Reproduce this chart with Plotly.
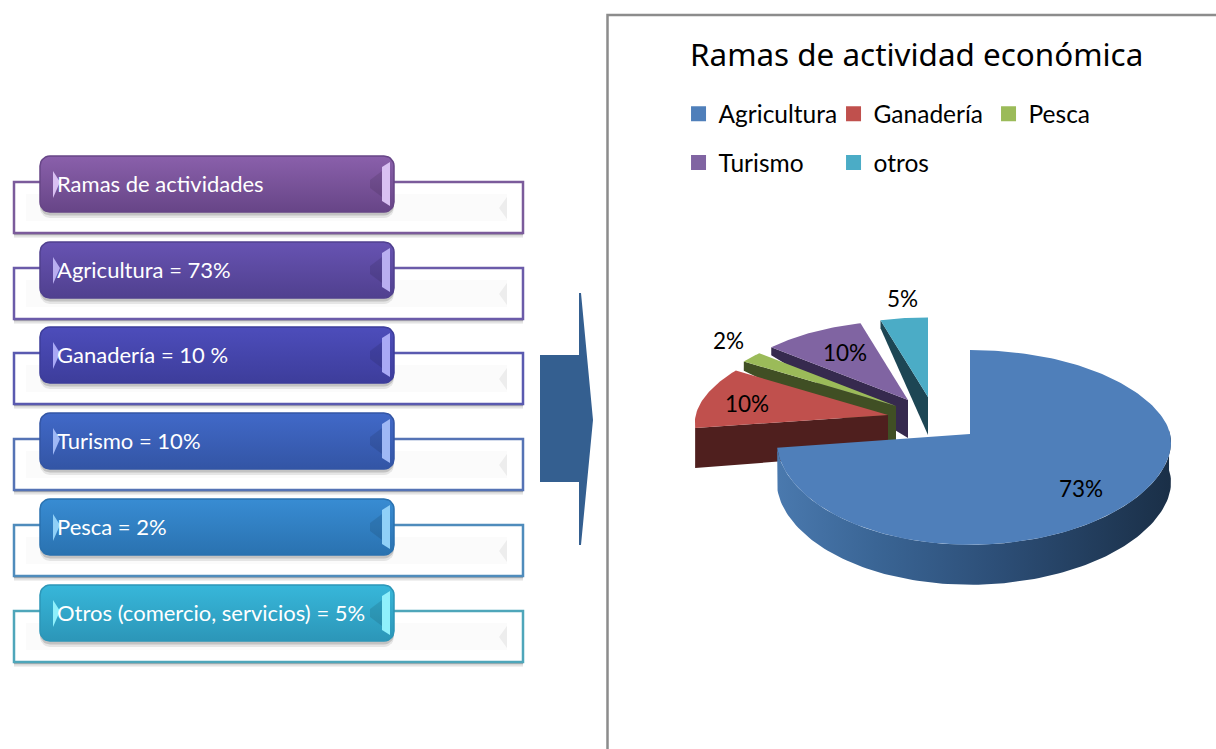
import numpy as np
import plotly.graph_objects as go

# ---- data ----
categories = ["Agricultura", "Ganadería", "Pesca", "Turismo", "otros"]
shares = [73, 10, 2, 10, 5]
title_text = "Ramas de actividad económica"
list_labels = ["Ramas de actividades", "Agricultura = 73%", "Ganadería = 10 %",
               "Turismo = 10%", "Pesca = 2%", "Otros (comercio, servicios) = 5%"]

# ---- styles ----
top_colors = ["#4f7fba", "#c0504d", "#9bbb59", "#8064a2", "#4bacc6"]
face_colors = ["#2d4f78", "#4f1f1e", "#404f24", "#362a4e", "#1d4654"]
apexes = [(970, 434), (888, 415), (896, 406), (908, 400), (928, 397)]
label_pos = [(1081, 488), (747, 403), (728, 340), (845, 352), (902, 298)]
RX, DEPTH = 201, 40
RYS = [111, 105, 105, 105, 105]

btn_top = [156, 242, 327, 413, 499, 585]
btn_grad = [("#8a60ab", "#674587"), ("#6753b2", "#50408f"), ("#4d4dbb", "#3d3d9b"),
            ("#4169c8", "#3355a5"), ("#388cd3", "#2a72b0"), ("#37b7da", "#2c96b8")]
frame_col = ["#7b5b9b", "#6b5ba9", "#5a5ab0", "#5573b5", "#4f8cbc", "#4ea6ba"]
bevel_col = ["#d9c0f2", "#b9aef0", "#a9a9f5", "#9fb8f5", "#90d0f7", "#8ff0fb"]

fig = go.Figure()


def persp(theta, apex, ry):
    t = np.radians(theta)
    u, v = np.sin(t), np.cos(t)
    s = 1 - 0.12 * (v + np.sqrt(v * v + 0.04))
    return apex[0] + RX * (1 + 0.02 * u) * u * s, apex[1] - ry * v * s, v


def depth_at(v):
    return DEPTH - (DEPTH - 8) * np.clip(v / 0.5, 0, 1)


def poly(xs, ys, **kw):
    fig.add_trace(go.Scatter(x=list(xs) + [xs[0]], y=list(ys) + [ys[0]], mode="lines",
                             fill="toself", line=dict(width=kw.pop("lw", 0), color=kw.pop("lc", "rgba(0,0,0,0)")),
                             hoverinfo="skip", showlegend=False, **kw))


def rounded(x0, y0, x1, y1, r):
    a = np.linspace(0, np.pi / 2, 8)
    xs = np.concatenate([x1 - r + r * np.sin(a), x1 - r + r * np.cos(a), x0 + r - r * np.sin(a), x0 + r - r * np.cos(a)])
    ys = np.concatenate([y0 + r - r * np.cos(a), y1 - r + r * np.sin(a), y1 - r + r * np.cos(a), y0 + r - r * np.sin(a)])
    return xs, ys


# ---- left list ----
shapes = []
for i, top in enumerate(btn_top):
    fx0, fx1, fy0, fy1 = 14, 523, top + 26, top + 77
    for off, op in [(5, 0.08), (3.5, 0.14), (2, 0.28)]:
        shapes.append(dict(type="rect", x0=fx0, x1=fx1, y0=fy0 + off, y1=fy1 + off, layer="below",
                           line_width=0, fillcolor="#404040", opacity=op))
    shapes.append(dict(type="rect", x0=fx0, x1=fx1, y0=fy0, y1=fy1, layer="below",
                       line=dict(color=frame_col[i], width=2.5), fillcolor="#ffffff"))
    shapes.append(dict(type="path", layer="below", line_width=0, fillcolor="#fbfbfb",
                       path=f"M{fx0+12},{fy0+12} L{fx1-16},{fy0+12} L{fx1-16},{fy1-12} L{fx0+12},{fy1-12} Z"))
    shapes.append(dict(type="path", layer="below", line_width=0, fillcolor="#ededed",
                       path=f"M{fx1-16},{fy0+15} L{fx1-24},{fy0+26} L{fx1-16},{fy0+37} Z"))

for i, top in enumerate(btn_top):
    bx0, bx1, by0, by1 = 40, 394, top, top + 56
    for off, op in [(6, 0.10), (3.5, 0.18)]:
        sx, sy = rounded(bx0, by0 + off, bx1, by1 + off, 10)
        poly(sx, sy, fillcolor=f"rgba(40,40,40,{op})")
    xs, ys = rounded(bx0, by0, bx1, by1, 10)
    poly(xs, ys, fillgradient=dict(type="vertical", colorscale=[[0, btn_grad[i][1]], [1, btn_grad[i][0]]]),
         lw=1.5, lc=btn_grad[i][1])
    shapes.append(dict(type="path", layer="above", line_width=0, fillcolor="rgba(0,0,0,0.10)",
                       path=f"M{bx1-4},{by0+9} L{bx1-24},{by0+24} L{bx1-24},{by1-24} L{bx1-4},{by1-9} Z"))
    shapes.append(dict(type="path", layer="above", line_width=0, fillcolor=bevel_col[i],
                       path=f"M{bx1-12},{by0+11} L{bx1-4},{by0+6} L{bx1-4},{by1-6} L{bx1-12},{by1-11} Z"))
    shapes.append(dict(type="path", layer="above", line_width=0, fillcolor=bevel_col[i],
                       path=f"M{bx0+13},{by0+15} L{bx0+20},{by0+26} L{bx0+13},{by1-14} Z"))

# ---- arrow ----
poly([540, 579, 579, 581, 593, 581, 579, 579, 540], [355, 355, 293, 293, 420, 545, 545, 482, 482], fillcolor="#345f90")

# ---- pie, back to front ----
angles = np.cumsum([0] + shares) * 3.6
for idx in [4, 3, 2, 1]:
    start, end = angles[idx], angles[idx + 1]
    ap = apexes[idx]
    ox, oy, ov = persp(start, ap, RYS[idx])
    poly([ox, ap[0], ap[0], ox], [oy, ap[1], ap[1] + DEPTH - 2, oy + depth_at(ov)], fillcolor=face_colors[idx])
    th = np.linspace(start, end, 40)
    px, py, _ = persp(th, ap, RYS[idx])
    poly(list(px) + [ap[0]], list(py) + [ap[1]], fillcolor=top_colors[idx], name=categories[idx])

ap = apexes[0]
th = np.linspace(88, angles[1], 120)
wx, wy, _ = persp(th, ap, RYS[0])
poly(list(wx) + list(wx[::-1]), list(wy) + list((wy + DEPTH)[::-1]),
     fillgradient=dict(type="horizontal",
                       colorscale=[[0, "#4a79ae"], [0.25, "#3a6595"], [0.55, "#2d4f78"], [1, "#1a2f47"]]))
th = np.linspace(0, angles[1], 200)
px, py, _ = persp(th, ap, RYS[0])
poly(list(px) + [ap[0]], list(py) + [ap[1]], fillcolor=top_colors[0], name=categories[0])

# ---- legend keys ----
for i, name in enumerate(categories):
    fig.add_trace(go.Scatter(x=[None], y=[None], mode="markers", name=name,
                             marker=dict(symbol="square", size=15, color=top_colors[i]),
                             legend="legend" if i < 3 else "legend2"))

# ---- texts ----
ann = []
for (x, y), v in zip(label_pos, shares):
    ann.append(dict(x=x, y=y, text=f"{v}%", showarrow=False, xanchor="center", yanchor="middle",
                    font=dict(family="Lato", size=22.5, color="#000000")))
for top, text in zip(btn_top, list_labels):
    ann.append(dict(x=55, y=top + 27, text=text, showarrow=False, xanchor="left", yanchor="middle",
                    font=dict(family="Lato", size=22, color="#ffffff")))
ann.append(dict(x=688, y=53, text=title_text, showarrow=False, xanchor="left", yanchor="middle",
                font=dict(family="Noto Sans", size=31.4, color="#000000")))

# ---- chart frame ----
shapes.append(dict(type="path", layer="below", path="M607.5,749 L607.5,15 L1216,15",
                   line=dict(color="#8c8c8c", width=2.5)))

legend_base = dict(orientation="h", xanchor="left", yanchor="top", entrywidth=110, entrywidthmode="pixels",
                   bgcolor="rgba(0,0,0,0)", font=dict(family="Lato", size=24.5, color="#000000"),
                   itemclick=False, itemdoubleclick=False, traceorder="normal")
fig.update_layout(
    width=1216, height=749, margin=dict(l=0, r=0, t=0, b=0, autoexpand=False), paper_bgcolor="#ffffff", plot_bgcolor="#ffffff",
    xaxis=dict(range=[0, 1216], visible=False, fixedrange=True),
    yaxis=dict(range=[749, 0], visible=False, fixedrange=True),
    shapes=shapes, annotations=ann, hovermode=False,
    legend=dict(x=0.558, y=0.878, **legend_base),
    legend2=dict(x=0.558, y=0.813, **legend_base),
)
fig.write_html("out.html", config=dict(displayModeBar=False),
               post_script="document.body.style.margin='0';document.body.style.overflow='hidden';")
